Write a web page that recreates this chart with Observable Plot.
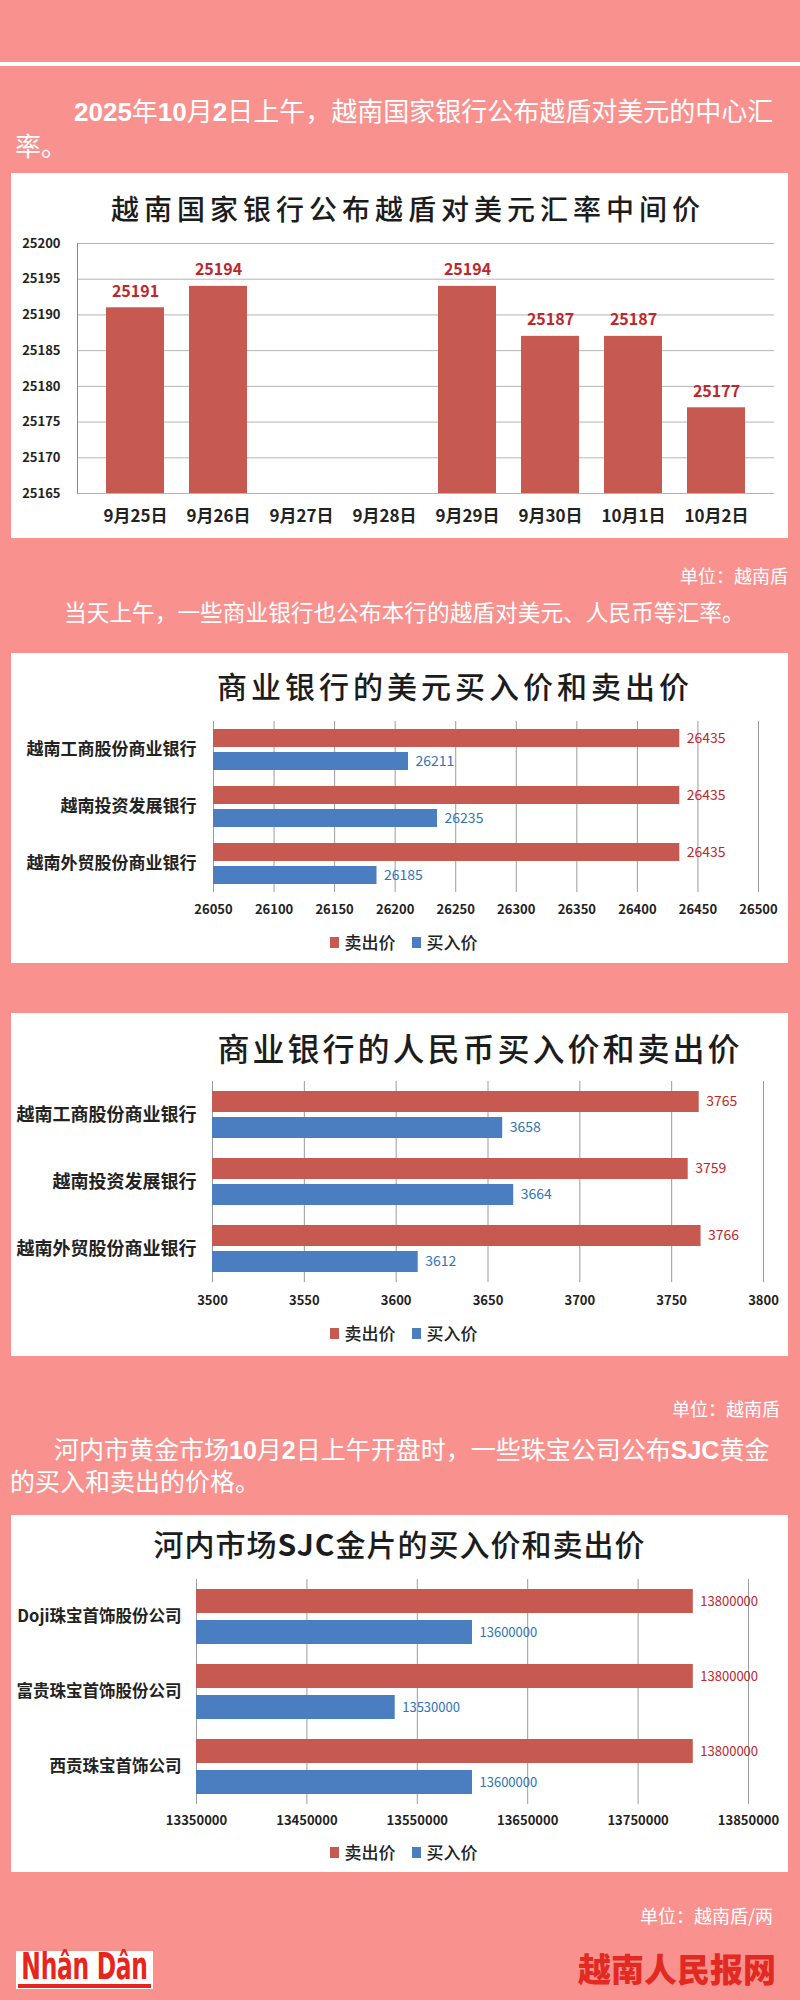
<!DOCTYPE html>
<html><head><meta charset="utf-8">
<script src="https://cdn.jsdelivr.net/npm/d3@7"></script>
<script src="https://cdn.jsdelivr.net/npm/@observablehq/plot@0.6"></script>
<style>
body{margin:0;background:#f9928f;}
#page{position:relative;width:800px;height:2000px;background:#f9928f;font-family:"Noto Sans CJK SC",sans-serif;overflow:hidden;}
.abs{position:absolute;}
.para{color:#fff;white-space:nowrap;}
.para b{font-family:"Liberation Sans","Noto Sans CJK SC",sans-serif;font-weight:bold;}
.unit{color:#fff;font-size:18px;line-height:24px;white-space:nowrap;}
.box{position:absolute;background:#fff;left:11px;width:777px;}
.title{position:absolute;left:0;width:777px;text-align:center;color:#1c1c1c;white-space:nowrap;font-weight:500;}
.legend{position:absolute;left:0;width:100%;display:flex;justify-content:center;align-items:center;font-size:17px;line-height:20px;color:#222;font-weight:500;}
.legend .sw{display:inline-block;width:9px;height:11px;margin-right:6px;}
.legend .it{display:flex;align-items:center;margin:0 8px;}
.box svg{position:absolute;left:0;}
</style>
</head><body>
<div id="page">
  <div class="abs" style="left:0;top:62px;width:800px;height:4px;background:#fff;"></div>
  <div class="abs para" style="left:74px;top:92px;font-size:26px;line-height:35px;"><b>2025</b>年<b>10</b>月<b>2</b>日上午，越南国家银行公布越盾对美元的中心汇</div>
  <div class="abs para" style="left:15px;top:127px;font-size:26px;line-height:35px;">率。</div>

  <div class="box" id="box1" style="top:173px;height:365px;">
    <div class="title" style="left:-380px;width:1554px;top:16px;font-size:28px;line-height:38px;letter-spacing:5px;">越南国家银行公布越盾对美元汇率中间价</div>
  </div>

  <div class="abs unit" style="right:12px;top:563px;">单位：越南盾</div>
  <div class="abs para" style="left:64px;top:597px;font-size:22.7px;line-height:30px;">当天上午，一些商业银行也公布本行的越盾对美元、人民币等汇率。</div>

  <div class="box" id="box2" style="top:653px;height:310px;">
    <div class="title" style="left:110px;width:668px;top:12px;font-size:30px;line-height:40px;letter-spacing:4px;">商业银行的美元买入价和卖出价</div>
  </div>

  <div class="box" id="box3" style="top:1013px;height:343px;">
    <div class="title" style="left:170px;width:598px;top:13px;font-size:32px;line-height:42px;letter-spacing:3px;">商业银行的人民币买入价和卖出价</div>
  </div>

  <div class="abs unit" style="right:20px;top:1396px;">单位：越南盾</div>
  <div class="abs para" style="left:54px;top:1432px;font-size:25px;line-height:32px;">河内市黄金市场<b>10</b>月<b>2</b>日上午开盘时，一些珠宝公司公布<b>SJC</b>黄金</div>
  <div class="abs para" style="left:10px;top:1464px;font-size:25px;line-height:32px;">的买入和卖出的价格。</div>

  <div class="box" id="box4" style="top:1515px;height:357px;">
    <div class="title" style="top:8px;font-size:30px;line-height:40px;letter-spacing:1px;">河内市场<b>SJC</b>金片的买入价和卖出价</div>
  </div>

  <div class="abs unit" style="right:27px;top:1903px;">单位：越南盾/两</div>

  <div class="abs" style="left:16px;top:1951px;width:137px;height:38px;background:#fff;">
    <div style="position:absolute;left:0;top:0;width:137px;text-align:center;color:#e8251d;font-family:'DejaVu Sans Condensed','DejaVu Sans',sans-serif;font-weight:bold;font-size:26px;line-height:22px;transform-origin:0 0;transform:scaleY(1.42);letter-spacing:-0.3px;white-space:nowrap;">Nhân Dân</div>
    <div style="position:absolute;left:2px;right:2px;top:33px;height:4px;background:#e8251d;"></div>
  </div>
  <div class="abs" style="right:24px;top:1948px;color:#e32a22;font-size:33px;line-height:40px;font-weight:900;white-space:nowrap;">越南人民报网</div>
</div>

<script>
// ---------- Data ----------
const dates = ["9月25日","9月26日","9月27日","9月28日","9月29日","9月30日","10月1日","10月2日"];
const midRates = [25191, 25194, null, null, 25194, 25187, 25187, 25177];
const midTicks = [25165, 25170, 25175, 25180, 25185, 25190, 25195, 25200];

const seriesNames = ["卖出价", "买入价"];

const banks = ["越南工商股份商业银行", "越南投资发展银行", "越南外贸股份商业银行"];
const usdSell = [26435, 26435, 26435];
const usdBuy = [26211, 26235, 26185];
const usdTicks = [26050, 26100, 26150, 26200, 26250, 26300, 26350, 26400, 26450, 26500];

const cnySell = [3765, 3759, 3766];
const cnyBuy = [3658, 3664, 3612];
const cnyTicks = [3500, 3550, 3600, 3650, 3700, 3750, 3800];

const goldCompanies = ["Doji珠宝首饰股份公司", "富贵珠宝首饰股份公司", "西贡珠宝首饰公司"];
const goldSell = [13800000, 13800000, 13800000];
const goldBuy = [13600000, 13530000, 13600000];
const goldTicks = [13350000, 13450000, 13550000, 13650000, 13750000, 13850000];

// ---------- Styles ----------
const RED = "#c65a50", BLUE = "#4a7ec1";
const RED_TXT = "#c0262c", BLUE_TXT = "#2d74b8";
const FONT = "Noto Sans CJK SC";

// ---------- Chart 1 ----------
{
  const data = dates.map((d, i) => ({date: d, value: midRates[i]})).filter(d => d.value != null);
  const base = d3.min(midTicks);
  const svg = Plot.plot({
    width: 777, height: 308,
    marginLeft: 66, marginRight: 14, marginTop: 18, marginBottom: 40,
    style: {fontFamily: FONT, background: "transparent", color: "#222"},
    x: {domain: dates, padding: 0.3},
    y: {domain: d3.extent(midTicks)},
    marks: [
      Plot.gridY({ticks: midTicks, stroke: "#b5b5b5", strokeOpacity: 1}),
      Plot.frame({anchor: "left", stroke: "#8a8a8a"}),
      Plot.barY(data, {x: "date", y1: base, y2: "value", fill: RED}),
      Plot.text(data, {x: "date", y: "value", text: d => String(d.value), dy: -16, fontSize: 16, fontWeight: "bold", fill: RED_TXT}),
      Plot.axisY({ticks: midTicks, tickSize: 0, tickPadding: 17, fontSize: 13, fontWeight: "bold", tickFormat: d => String(d), label: null}),
      Plot.axisX({tickSize: 0, tickPadding: 16, fontSize: 17, fontWeight: "bold", label: null})
    ]
  });
  svg.style.top = "52px";
  document.getElementById("box1").appendChild(svg);
}

// ---------- Horizontal grouped bars ----------
function hbar({boxId, cats, sell, buy, ticks, top, marginLeft, marginRight, facetH, marginBottom, tickPadding, catPad, catSize, valSize, pInner, pOuter, legendTop}) {
  const data = [];
  cats.forEach((c, i) => {
    data.push({cat: c, series: seriesNames[0], value: sell[i]});
    data.push({cat: c, series: seriesNames[1], value: buy[i]});
  });
  const base = d3.min(ticks);
  const svg = Plot.plot({
    width: 777, height: 20 + facetH + marginBottom,
    marginLeft, marginRight, marginTop: 20, marginBottom,
    style: {fontFamily: FONT, background: "transparent", color: "#222"},
    fy: {domain: cats, padding: 0},
    y: {domain: seriesNames, paddingInner: pInner, paddingOuter: pOuter, axis: null},
    x: {domain: d3.extent(ticks)},
    color: {domain: seriesNames, range: [RED, BLUE]},
    marks: [
      Plot.gridX({ticks, stroke: "#9c9c9c", strokeOpacity: 1}),
      Plot.barX(data, {fy: "cat", y: "series", x1: base, x2: "value", fill: "series"}),
      Plot.text(data.filter(d => d.series === seriesNames[0]), {fy: "cat", y: "series", x: "value", text: d => String(d.value), dx: 7, textAnchor: "start", fontSize: valSize, fill: RED_TXT}),
      Plot.text(data.filter(d => d.series === seriesNames[1]), {fy: "cat", y: "series", x: "value", text: d => String(d.value), dx: 7, textAnchor: "start", fontSize: valSize, fill: BLUE_TXT}),
      Plot.axisX({ticks, tickSize: 0, tickPadding, fontSize: 13, fontWeight: "bold", tickFormat: d => String(d), label: null}),
      Plot.axisFy({anchor: "left", tickSize: 0, tickPadding: catPad, fontSize: catSize, fontWeight: "bold", label: null})
    ]
  });
  svg.style.top = top + "px";
  const box = document.getElementById(boxId);
  box.appendChild(svg);
  const lg = document.createElement("div");
  lg.className = "legend";
  lg.style.top = legendTop + "px";
  lg.style.paddingLeft = "8px";
  lg.style.boxSizing = "border-box";
  seriesNames.forEach((s, i) => {
    const it = document.createElement("span");
    it.className = "it";
    const sw = document.createElement("span");
    sw.className = "sw";
    sw.style.background = i === 0 ? RED : BLUE;
    it.appendChild(sw);
    it.appendChild(document.createTextNode(s));
    lg.appendChild(it);
  });
  box.appendChild(lg);
}

hbar({boxId: "box2", cats: banks, sell: usdSell, buy: usdBuy, ticks: usdTicks, top: 47,
  marginLeft: 202, marginRight: 30, facetH: 173, marginBottom: 30, tickPadding: 12,
  catPad: 17, catSize: 17, valSize: 14, pInner: 0.2, pOuter: 0.3, legendTop: 279});

hbar({boxId: "box3", cats: banks, sell: cnySell, buy: cnyBuy, ticks: cnyTicks, top: 47,
  marginLeft: 201, marginRight: 25, facetH: 203, marginBottom: 32, tickPadding: 13,
  catPad: 16, catSize: 18, valSize: 14, pInner: 0.2, pOuter: 0.35, legendTop: 310});

hbar({boxId: "box4", cats: goldCompanies, sell: goldSell, buy: goldBuy, ticks: goldTicks, top: 43,
  marginLeft: 185, marginRight: 40, facetH: 227, marginBottom: 30, tickPadding: 11,
  catPad: 15, catSize: 16.5, valSize: 13, pInner: 0.22, pOuter: 0.29, legendTop: 327});
</script>
</body></html>
